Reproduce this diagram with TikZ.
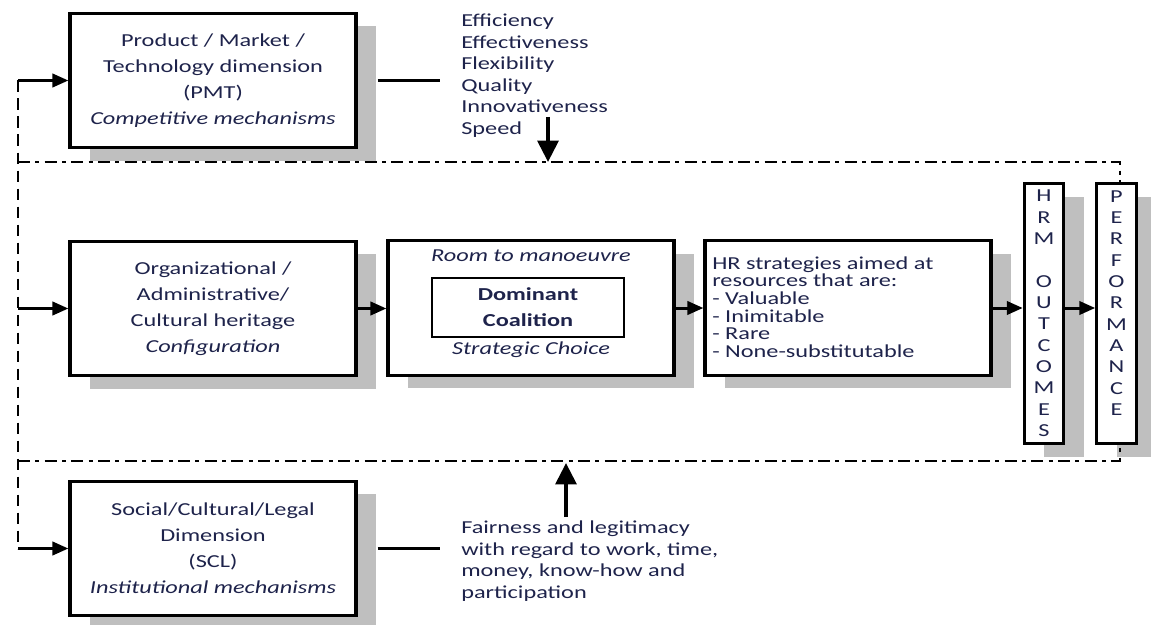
\documentclass[tikz,border=0pt]{standalone}
\usepackage{fontspec}
\setmainfont{Carlito}[FakeStretch=1.33]
\usetikzlibrary{arrows.meta,shadows}
\definecolor{txt}{RGB}{30,35,75}
\definecolor{shade}{RGB}{191,191,191}
\begin{document}
\begin{tikzpicture}[x=0.75pt,y=-0.75pt,
  every node/.style={text=txt, font=\fontsize{13.7}{19.5}\selectfont},
  box/.style={draw=black, line width=2.4pt, fill=white, inner sep=0pt, align=center,
    drop shadow={shadow xshift=15pt, shadow yshift=-9.75pt, opacity=1, fill=shade}},
  bigbox/.style={box, minimum width=214.5pt, minimum height=101pt},
  tallbox/.style={box, minimum width=29.5pt, minimum height=195pt,
    font=\fontsize{13.7}{16}\selectfont},
  innerbox/.style={draw=black, line width=1pt, fill=white, minimum width=144pt,
    minimum height=44.25pt, inner sep=0pt, align=center, font=\bfseries\fontsize{13.7}{19.5}\selectfont},
  listtxt/.style={anchor=west, align=left, inner xsep=15.75pt, inner ysep=0pt,
    font=\fontsize{13.7}{16.1}\selectfont},
  arr/.style={draw=black, line width=2.25pt, -{Triangle[length=12pt,width=10pt]}},
  bigarr/.style={draw=black, line width=3pt, -{Triangle[length=16pt,width=15.5pt]}},
  plain/.style={draw=black, line width=2.25pt},
  frame/.style={draw=black, line width=1.5pt, dash pattern=on 9pt off 4pt on 3pt off 4pt},
  dline/.style={draw=black, line width=2pt, dash pattern=on 8.5pt off 5pt}
]
\useasboundingbox (0,0) rectangle (1151,624);

% boxes
\node[bigbox] (pmt) at (213,80.5) {Product / Market /\\Technology dimension\\(PMT)\\\textit{Competitive mechanisms}};
\node[bigbox] (org) at (213,308.5) {Organizational /\\Administrative/\\Cultural heritage\\\textit{Configuration}};
\node[bigbox] (room) at (531,308) {};
\node[bigbox] (hr) at (848,308) {};
\node[bigbox] (scl) at (213,548.5) {Social/Cultural/Legal\\Dimension\\(SCL)\\\textit{Institutional mechanisms}};
\node[tallbox] (hrm) at (1044,313.5) {H\\R\\M\\\mbox{}\\O\\U\\T\\C\\O\\M\\E\\S};
\node[tallbox] (perf) at (1116.5,313.5) {P\\E\\R\\F\\O\\R\\M\\A\\N\\C\\E\\\mbox{}};

% room box content
\node (roomt) at (531,256) {\textit{Room to manoeuvre}};
\node[innerbox] (dom) at (528,307.5) {Dominant\\Coalition};
\node (strat) at (531,350) {\textit{Strategic Choice}};

% HR text
\node[anchor=west, align=left, inner sep=0pt, font=\fontsize{13.7}{13.2}\selectfont] (hrt) at (712,307)
  {HR strategies aimed at\\resources that are:\\- Valuable\\- Inimitable\\- Rare\\- None-substitutable};

% lists
\node[listtxt] (pmtlist) at (440,75.5) {Efficiency\\Effectiveness\\Flexibility\\Quality\\Innovativeness\\Speed};
\node[listtxt] (scllist) at (440,561) {Fairness and legitimacy\\with regard to work, time,\\money, know-how and\\participation};

% connectors to lists
\draw[plain] ([xshift=15pt]pmt.east) -- (pmt.east -| pmtlist.west);
\draw[plain] ([xshift=15pt]scl.east) -- (scl.east -| scllist.west);

% frame
\coordinate (ftl) at (18,162);
\coordinate (ftr) at (1120,162);
\coordinate (fbl) at (18,461);
\coordinate (fbr) at (1120,461);
\coordinate (dl) at (18,0);
\draw[frame] (ftl) -- (ftr) -- (ftr |- perf.north);
\draw[frame] (fbl) -- (fbr) -- (fbr |- perf.south);

% left dashed line and arrows
\draw[dline] (pmt.west -| dl) -- (scl.west -| dl);
\draw[arr] (pmt.west -| dl) -- (pmt.west);
\draw[arr] (org.west -| dl) -- (org.west);
\draw[arr] (scl.west -| dl) -- (scl.west);

% chain arrows
\draw[arr] (org.east) -- (org.east -| room.west);
\draw[arr] (room.east) -- (room.east -| hr.west);
\draw[arr] (hr.east) -- (hr.east -| hrm.west);
\draw[arr] (hr.east -| hrm.east) -- (hr.east -| perf.west);

% vertical big arrows
\coordinate (dtop) at (548,117);
\coordinate (dtip) at (548,162);
\draw[bigarr] (dtop) -- (dtip);
\coordinate (ubot) at (566,517);
\coordinate (utip) at (566,463);
\draw[bigarr] (ubot) -- (utip);
\end{tikzpicture}
\end{document}
